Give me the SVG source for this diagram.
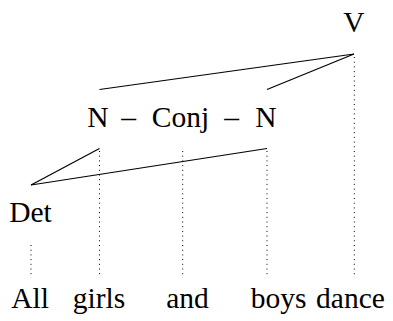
<svg xmlns="http://www.w3.org/2000/svg" width="393" height="321" viewBox="0 0 393 321">
<rect width="393" height="321" fill="#fff"/>
<g id="connectors" stroke="#000" fill="none">
<g stroke-width="1.2">
<line x1="354" y1="54" x2="99.5" y2="89.5"/>
<line x1="354" y1="54" x2="267" y2="89.5"/>
<line x1="31" y1="185" x2="99.5" y2="148.5"/>
<line x1="31" y1="185" x2="267" y2="148.5"/>
</g>
<g stroke-width="1" stroke-dasharray="1 3.7">
<line x1="99.5" y1="151" x2="99.5" y2="278"/>
<line x1="182.7" y1="151" x2="182.7" y2="278"/>
<line x1="267" y1="151" x2="267" y2="278"/>
<line x1="354.3" y1="57" x2="354.3" y2="278"/>
<line x1="31" y1="245" x2="31" y2="278"/>
</g>
</g>
<g id="V"><text x="354" y="32" style="font-family:'Liberation Serif',serif;font-size:29.5px" text-anchor="middle">V</text></g>
<g id="NP"><text x="98" y="127" style="font-family:'Liberation Serif',serif;font-size:29.5px" text-anchor="middle">N</text><text x="128.5" y="127" style="font-family:'Liberation Serif',serif;font-size:29.5px" text-anchor="middle">–</text><text x="180.5" y="127" style="font-family:'Liberation Serif',serif;font-size:29.5px" text-anchor="middle">Conj</text><text x="231.5" y="127" style="font-family:'Liberation Serif',serif;font-size:29.5px" text-anchor="middle">–</text><text x="266" y="127" style="font-family:'Liberation Serif',serif;font-size:29.5px" text-anchor="middle">N</text></g>
<g id="Det"><text x="30.5" y="222" style="font-family:'Liberation Serif',serif;font-size:29.5px" text-anchor="middle">Det</text></g>
<g id="words">
<text x="30" y="308" style="font-family:'Liberation Serif',serif;font-size:29.5px" text-anchor="middle">All</text>
<text x="99" y="308" style="font-family:'Liberation Serif',serif;font-size:29.5px" text-anchor="middle">girls</text>
<text x="187.5" y="308" style="font-family:'Liberation Serif',serif;font-size:29.5px" text-anchor="middle">and</text>
<text x="278.5" y="308" style="font-family:'Liberation Serif',serif;font-size:29.5px" text-anchor="middle">boys</text>
<text x="350.5" y="308" style="font-family:'Liberation Serif',serif;font-size:29.5px" text-anchor="middle">dance</text>
</g>
</svg>
